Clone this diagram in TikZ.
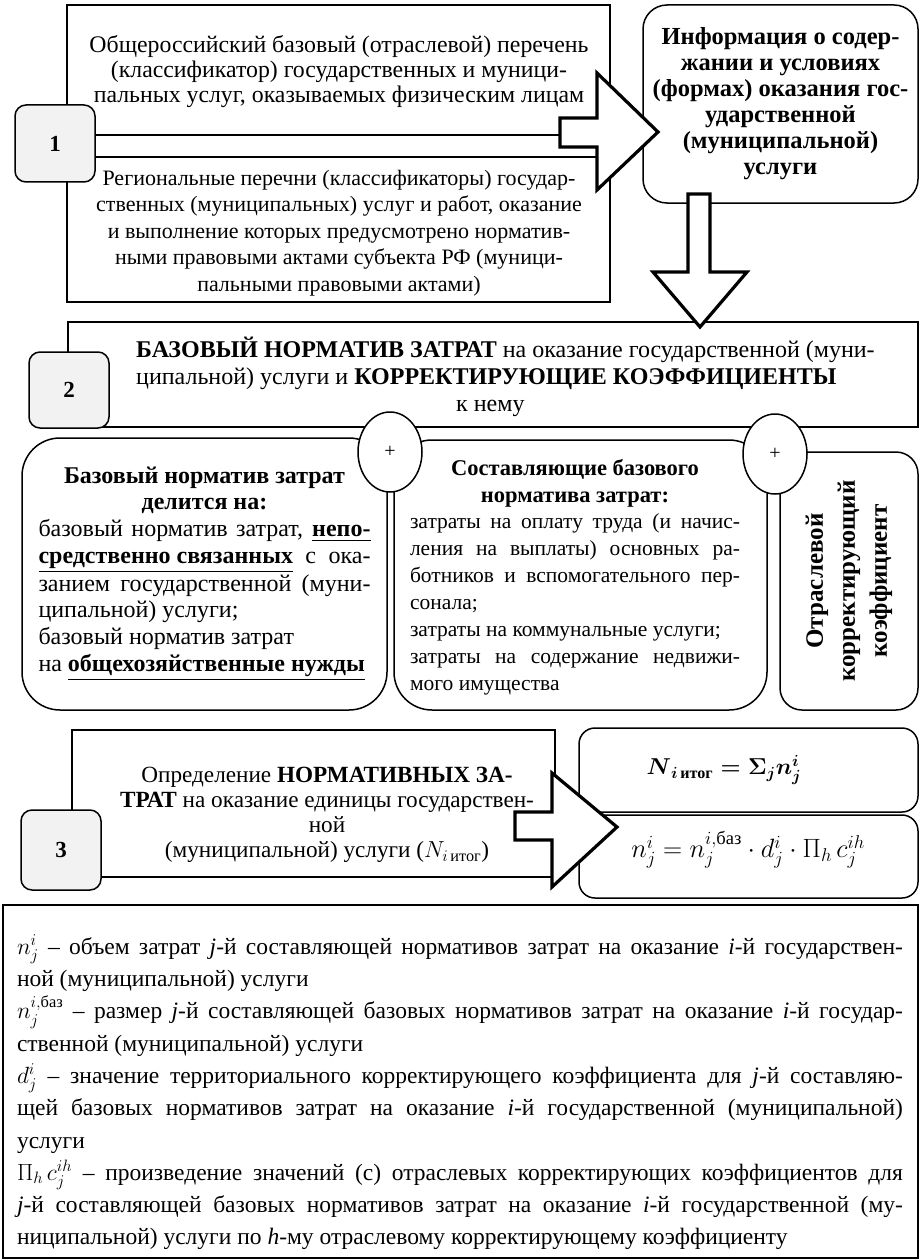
\RequirePackage{fix-cm}
\documentclass[tikz,border=0pt]{standalone}
\usepackage{amsmath}
\usepackage{fontspec}
\setmainfont{Liberation Serif}
\usetikzlibrary{shapes.geometric}

\newcommand{\fullline}[1]{\makebox[\hsize][s]{#1}}
\newcommand{\midline}[1]{\makebox[\hsize]{\textbf{#1}}}
\newcommand{\ubf}[1]{\underline{\textbf{#1}}}
\newcommand{\fs}[2]{\fontsize{#1}{#2}\selectfont}

\begin{document}
\begin{tikzpicture}[
      x=1pt, y=-1pt,
      plain box/.style={draw, line width=1.5pt, inner sep=0pt},
      round box/.style={plain box, rounded corners=#1},
      round box/.default=20pt,
      step tag/.style={draw, line width=1.5pt, fill=gray!10, rounded corners=11pt,
        minimum width=80, minimum height=77, inner sep=0pt, font=\bfseries\fs{23}{26}},
      plus sign/.style={draw, line width=1.5pt, fill=white, ellipse, inner sep=0pt,
        minimum width=64, minimum height=80, font=\fs{20}{24}},
      block arrow/.style={draw, line width=3.2pt, fill=white, miter limit=20},
      body text/.style={inner sep=0pt, align=center, font=\fs{22}{26.5}},
      para text/.style={body text, align=justify}]
    \useasboundingbox (0,0) rectangle (922,1260);

    \node[plain box, minimum width=543, minimum height=297] (lists) at (338.5,153.5) {};
    \node[body text, font=\fs{23.8}{25}] (allrus) at (339,72) {Общероссийский базовый (отраслевой) перечень\\
      (классификатор) государственных и муници-\\
      пальных услуг, оказываемых физическим лицам};
    \node[body text] (regional) at (339,233) {Региональные перечни (классификаторы) государ-\\
      ственных (муниципальных) услуг и работ, оказание\\
      и выполнение которых предусмотрено норматив-\\
      ными правовыми актами субъекта РФ (муници-\\
      пальными правовыми актами)};
    \node[round box=24pt, minimum width=275, minimum height=198, body text,
      font=\bfseries\fs{24.5}{26}] (info) at (780.5,104)
      {Информация о содер-\\жании и условиях\\(формах) оказания гос-\\ударственной\\(муниципальной)\\услуги};
    \node[step tag] (one) at (55,143.5) {1};
    \draw[line width=1.5pt] (one.east |- 0,135) -- (560,135) (one.east |- 0,157) -- (597,157);
    \draw[block arrow] (560,118) -- (597,118) -- (597,73) -- (658,132) -- (597,190) -- (597,147) -- (560,147) -- cycle;

    \node[plain box, minimum width=850, minimum height=105] (basenorm) at (493,374.5) {};
    \node[body text, align=left, anchor=west, font=\fs{24}{27}] (basetext) at (136,377)
      {\textbf{БАЗОВЫЙ НОРМАТИВ ЗАТРАТ} на оказание государственной (муни-\\
      ципальной) услуги и \textbf{КОРРЕКТИРУЮЩИЕ КОЭФФИЦИЕНТЫ}\\
      \hspace*{320pt}к нему};
    \node[step tag, minimum height=76] (two) at (69,390) {2};
    \draw[block arrow] (688,194) -- (710,194) -- (710,272) -- (747,272) -- (700,327) -- (653,272) -- (688,272) -- cycle;

    \node[round box=38pt, para text, text width=332, minimum width=365, minimum height=272,
      font=\fs{24}{26.7}] (parts) at (204.5,574)
      {\midline{Базовый норматив затрат}\\
      \midline{делится на:}\\
      \fullline{базовый норматив затрат, \ubf{непо-}}\\
      \fullline{\ubf{средственно связанных} с ока-}\\
      \fullline{занием государственной (муни-}\\
      \mbox{ципальной) услуги;}\\
      \mbox{базовый норматив затрат}\\
      \mbox{на \ubf{общехозяйственные нужды}}};
    \node[round box=38pt, minimum width=373, minimum height=270] (components) at (580.5,575) {};
    \node[para text, text width=330, font=\fs{21.5}{26.9}] (componentstext) at (575,577)
      {\midline{\fs{22.5}{26.9}Составляющие базового}\\
      \midline{\fs{22.5}{26.9}норматива затрат:}\\
      \fullline{затраты на оплату труда (и начис-}\\
      \fullline{ления на выплаты) основных ра-}\\
      \fullline{ботников и вспомогательного пер-}\\
      \mbox{сонала;}\\
      \mbox{затраты на коммунальные услуги;}\\
      \fullline{затраты на содержание недвижи-}\\
      \mbox{мого имущества}};
    \node[round box=22pt, minimum width=138, minimum height=258] (branch) at (849,581) {};
    \node[body text, rotate=90, font=\bfseries\fs{25}{32}] (branchtext) at (branch.center)
      {Отраслевой\\корректирующий\\коэффициент};
    \node[plus sign] (plusA) at (390,452) {+};
    \node[plus sign] (plusB) at (775,454) {+};

    \node[plain box, minimum width=483, minimum height=147] (unitcost) at (313.5,803.5) {};
    \node[body text, font=\fs{23.2}{25}] (unittext) at (327,815)
      {Определение \textbf{НОРМАТИВНЫХ ЗА-}\\
      \textbf{ТРАТ} на оказание единицы государствен-\\
      ной\\
      (муниципальной) услуги ($N_{i\,\text{итог}}$)};
    \node[step tag, minimum height=80] (three) at (61,850) {3};
    \node[round box=16pt, minimum width=339, minimum height=84] (total) at (748.5,770) {};
    \node[body text, font=\fs{23}{26}] (totaltext) at (724,770)
      {$\boldsymbol{N}_{\boldsymbol{i}\,\textbf{итог}} \boldsymbol{{}={}\Sigma_j n_j^i}$};
    \node[round box=16pt, minimum width=339, minimum height=83] (item) at (748.5,856.5) {};
    \node[body text, font=\fs{26.5}{28}] (itemtext) at (748,850)
      {$n_j^i = n_j^{i,\text{баз}}\cdot d_j^i\cdot \Pi_h\, c_j^{ih}$};
    \draw[block arrow] (515,812) -- (552,812) -- (552,773) -- (617,827) -- (552,887) -- (552,840) -- (515,840) -- cycle;

    \node[plain box, minimum width=915, minimum height=353] (legend) at (460.5,1081.5) {};
    \node[para text, text width=886, font=\fs{23.5}{32.3}] (legendtext) at (460,1092.5)
      {\fullline{$n_j^i$ – объем затрат \textit{j}-й составляющей нормативов затрат на оказание \textit{i}-й государствен-}\\
      \mbox{ной (муниципальной) услуги}\\
      \fullline{$n_j^{i,\text{баз}}$ – размер \textit{j}-й составляющей базовых нормативов затрат на оказание \textit{i}-й государ-}\\
      \mbox{ственной (муниципальной) услуги}\\
      \fullline{$d_j^i$ – значение территориального корректирующего коэффициента для \textit{j}-й составляю-}\\
      \fullline{щей базовых нормативов затрат на оказание \textit{i}-й государственной (муниципальной)}\\
      \mbox{услуги}\\
      \fullline{$\Pi_h\,c_j^{ih}$ – произведение значений (с) отраслевых корректирующих коэффициентов для}\\
      \fullline{\textit{j}-й составляющей базовых нормативов затрат на оказание \textit{i}-й государственной (му-}\\
      \mbox{ниципальной) услуги по \textit{h}-му отраслевому корректирующему коэффициенту}};
    \end{tikzpicture}
\end{document}
